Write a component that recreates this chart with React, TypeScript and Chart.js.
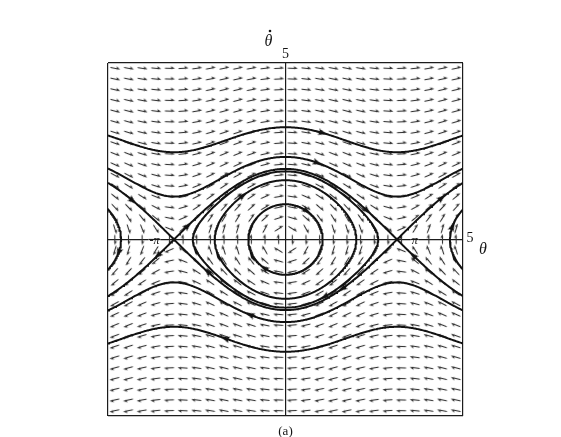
import { useEffect, useRef } from "react";
import { Chart, registerables } from "chart.js";

Chart.register(...registerables);

// Pendulum phase plane: θ' = ω, ω' = -sin θ
const thetaMin = -5;
const thetaMax = 5;
const omegaMin = -5;
const omegaMax = 5;

// speed ω at θ = 0 of the running trajectories (drawn for both directions)
const rotationSpeeds = [3.18, 2.34];
// speed ω at θ = 0 of the closed orbits about the rest state θ = 0
const librationSpeeds = [1.0, 1.68, 1.93];
// speed ω at θ = ±2π of the closed orbits about the neighbouring rest states
const sideLibrationSpeeds = [1.47];
// energy of the separatrix through the saddles at ±π
const separatrixEnergy = 1;

// direction-field grid (cell-centred samples)
const fieldColumns = 26;
const fieldRows = 33;

// arrowheads on trajectories: [family, curve index, θ, branch sign]
type Family = "rot" | "lib" | "side" | "sep";
const headMarks: [Family, number, number, number][] = [
  ["rot", 0, 1.05, 1],
  ["rot", 0, -1.7, -1],
  ["rot", 1, 0.9, 1],
  ["rot", 1, -1.0, -1],
  ["sep", 0, -2.75, 1],
  ["sep", 0, -4.3, 1],
  ["sep", 0, 2.3, 1],
  ["sep", 0, 4.4, 1],
  ["sep", 0, -3.6, -1],
  ["sep", 0, 3.6, -1],
  ["sep", 0, -2.2, -1],
  ["sep", 0, 1.6, -1],
  ["lib", 0, -0.6, -1],
  ["lib", 0, 0.6, 1],
  ["lib", 1, -1.2, 1],
  ["lib", 2, 1.1, -1],
  ["side", 0, -4.7, -1],
  ["side", 0, 4.7, 1],
];

const thetaLabels = ["-π", "π"];
const thetaLabelValues = [-Math.PI - 0.55, Math.PI + 0.5];
const axisMaxLabel = "5";
const caption = "(a)";

const energyAt = (speed: number, theta0: number) => (speed * speed) / 2 - Math.cos(theta0);
const speedAt = (E: number, theta: number) => Math.sqrt(Math.max(0, 2 * (E + Math.cos(theta))));

function familyEnergy(f: Family, i: number): number {
  if (f === "rot") return energyAt(rotationSpeeds[i], 0);
  if (f === "lib") return energyAt(librationSpeeds[i], 0);
  if (f === "side") return energyAt(sideLibrationSpeeds[i], 2 * Math.PI);
  return separatrixEnergy;
}

type P = { x: number; y: number };

function runningCurve(E: number, sign: number): P[] {
  const pts: P[] = [];
  const n = 400;
  for (let k = 0; k <= n; k++) {
    const th = thetaMin + ((thetaMax - thetaMin) * k) / n;
    pts.push({ x: th, y: sign * speedAt(E, th) });
  }
  return pts;
}

function separatrixCurve(sign: number): P[] {
  const pts: P[] = [];
  const n = 400;
  const xs: number[] = [];
  for (let k = 0; k <= n; k++) xs.push(thetaMin + ((thetaMax - thetaMin) * k) / n);
  xs.push(-Math.PI, Math.PI);
  xs.sort((a, b) => a - b);
  for (const th of xs) pts.push({ x: th, y: sign * 2 * Math.abs(Math.cos(th / 2)) });
  return pts;
}

function closedCurve(E: number, centre: number): P[] {
  const amp = Math.acos(Math.max(-1, Math.min(1, -E)));
  const pts: P[] = [];
  const n = 360;
  for (let k = 0; k <= n; k++) {
    const t = (2 * Math.PI * k) / n;
    const th = centre + amp * Math.cos(t);
    const s = Math.sin(t) >= 0 ? 1 : -1;
    pts.push({ x: th, y: s * speedAt(E, th) });
  }
  return pts;
}

function makeFieldArrow(): HTMLCanvasElement {
  const c = document.createElement("canvas");
  c.width = 12;
  c.height = 7;
  const g = c.getContext("2d")!;
  g.strokeStyle = "#333";
  g.fillStyle = "#333";
  g.lineWidth = 1.1;
  g.beginPath();
  g.moveTo(1.5, 3.5);
  g.lineTo(9.5, 3.5);
  g.stroke();
  g.beginPath();
  g.moveTo(11.5, 3.5);
  g.lineTo(7.5, 1.3);
  g.lineTo(8, 4.3);
  g.closePath();
  g.fill();
  return c;
}

function makeHead(): HTMLCanvasElement {
  const c = document.createElement("canvas");
  c.width = 9;
  c.height = 7;
  const g = c.getContext("2d")!;
  g.fillStyle = "#111";
  g.beginPath();
  g.moveTo(9, 3.5);
  g.lineTo(0, 0.3);
  g.lineTo(1.5, 3.5);
  g.lineTo(0, 6.7);
  g.closePath();
  g.fill();
  return c;
}

// screen angle (degrees) of the flow at (θ, ω)
function flowAngle(ctx: any): number {
  const raw = ctx && ctx.raw;
  if (!raw) return 0;
  const a = ctx.chart && ctx.chart.chartArea;
  const kx = a ? a.width / (thetaMax - thetaMin) : 1;
  const ky = a ? a.height / (omegaMax - omegaMin) : 1;
  return (Math.atan2(Math.sin(raw.x) * ky, raw.y * kx) * 180) / Math.PI;
}

const labelPlugin = {
  id: "phaseLabels",
  afterDraw(chart: Chart) {
    const g = chart.ctx;
    const xs = chart.scales.x;
    const ys = chart.scales.y;
    const x0 = xs.getPixelForValue(0);
    const y0 = ys.getPixelForValue(0);
    const top = ys.getPixelForValue(omegaMax);
    const right = xs.getPixelForValue(thetaMax);
    g.save();
    g.fillStyle = "#141414";
    g.textAlign = "center";
    g.textBaseline = "middle";
    g.font = "14px 'Liberation Serif', serif";
    g.fillText(axisMaxLabel, x0, top - 9);
    g.fillText(axisMaxLabel, right + 7, y0 - 1);
    // θ with a dot above (time derivative)
    g.font = "italic 16px 'Liberation Serif', serif";
    const tx = x0 - 17;
    const ty = top - 21;
    g.fillText("θ", tx, ty);
    g.beginPath();
    g.arc(tx + 1.5, ty - 11, 1.3, 0, Math.PI * 2);
    g.fill();
    g.fillText("θ", right + 20, y0 + 10);
    // ±π marks sit on the θ axis, on a small clear patch
    g.font = "italic 12px 'Liberation Serif', serif";
    thetaLabels.forEach((t, i) => {
      const px = xs.getPixelForValue(thetaLabelValues[i]);
      const w = g.measureText(t).width;
      g.fillStyle = "#fff";
      g.fillRect(px - w / 2 - 1, y0 - 6, w + 2, 12);
      g.strokeStyle = "#1c1c1c";
      g.lineWidth = 1.2;
      g.beginPath();
      g.moveTo(px - w / 2 - 1, y0);
      g.lineTo(px + w / 2 + 1, y0);
      g.stroke();
      g.fillStyle = "#141414";
      g.fillText(t, px, y0 + 1);
    });
    g.font = "13px 'Liberation Serif', serif";
    g.fillText(caption, x0, ys.getPixelForValue(omegaMin) + 16);
    g.restore();
  },
};

export default function App() {
  const ref = useRef<HTMLCanvasElement | null>(null);

  useEffect(() => {
    if (!ref.current) return;
    const arrowImg = makeFieldArrow();
    const headImg = makeHead();

    const field: P[] = [];
    for (let i = 0; i < fieldColumns; i++) {
      for (let j = 0; j < fieldRows; j++) {
        field.push({
          x: thetaMin + ((i + 0.5) * (thetaMax - thetaMin)) / fieldColumns,
          y: omegaMin + ((j + 0.5) * (omegaMax - omegaMin)) / fieldRows,
        });
      }
    }

    const curves: P[][] = [];
    rotationSpeeds.forEach((s) => {
      const E = energyAt(s, 0);
      curves.push(runningCurve(E, 1), runningCurve(E, -1));
    });
    curves.push(separatrixCurve(1), separatrixCurve(-1));
    librationSpeeds.forEach((s) => curves.push(closedCurve(energyAt(s, 0), 0)));
    sideLibrationSpeeds.forEach((s) => {
      const E = energyAt(s, 2 * Math.PI);
      curves.push(closedCurve(E, -2 * Math.PI), closedCurve(E, 2 * Math.PI));
    });

    const heads: P[] = headMarks.map(([f, i, th, sgn]) => {
      const E = familyEnergy(f, i);
      const om = f === "sep" ? 2 * Math.abs(Math.cos(th / 2)) : speedAt(E, th);
      return { x: th, y: sgn * om };
    });

    const curveSets = curves.map((pts) => ({
      data: pts,
      showLine: true,
      borderColor: "#121212",
      borderWidth: 2,
      pointRadius: 0,
      tension: 0,
      fill: false,
      order: 2,
    }));

    const axisGrid = {
      color: "#1c1c1c",
      lineWidth: 1.2,
      drawTicks: false,
    };

    const chart = new Chart(ref.current, {
      type: "scatter",
      data: {
        datasets: [
          {
            data: field,
            pointStyle: arrowImg,
            pointRadius: 3,
            rotation: flowAngle,
            order: 3,
          } as any,
          ...curveSets,
          {
            data: heads,
            pointStyle: headImg,
            pointRadius: 3,
            rotation: flowAngle,
            order: 1,
          } as any,
        ],
      },
      options: {
        responsive: false,
        animation: false,
        events: [],
        layout: { padding: { left: 108, right: 98, top: 63, bottom: 21 } },
        plugins: { legend: { display: false }, tooltip: { enabled: false } },
        scales: {
          x: {
            type: "linear",
            min: thetaMin,
            max: thetaMax,
            ticks: { display: false, stepSize: 5 },
            grid: axisGrid,
            border: { display: false },
          },
          y: {
            type: "linear",
            min: omegaMin,
            max: omegaMax,
            ticks: { display: false, stepSize: 5 },
            grid: axisGrid,
            border: { display: false },
          },
        },
      },
      plugins: [labelPlugin],
    });
    return () => chart.destroy();
  }, []);

  return (
    <div style={{ position: "fixed", left: 0, top: 0, width: 561, height: 437, background: "#fff" }}>
      <canvas ref={ref} width={561} height={437} />
    </div>
  );
}
